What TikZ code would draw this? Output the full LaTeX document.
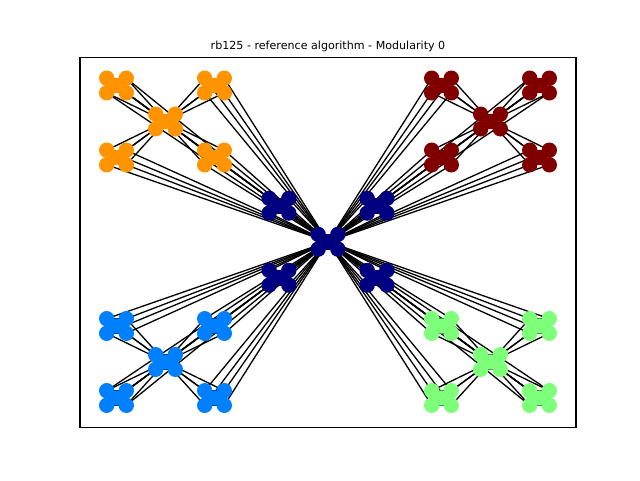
\documentclass[tikz,border=0pt]{standalone}
\usepackage{fontspec}
\setmainfont{DejaVu Sans}
\usetikzlibrary{backgrounds}
\definecolor{cdb}{HTML}{000080}
\definecolor{corange}{HTML}{FF9400}
\definecolor{cred}{HTML}{800000}
\definecolor{cblue}{HTML}{0080FF}
\definecolor{cgreen}{HTML}{7DFF7A}
\tikzset{
  dot/.style={circle,draw=none,minimum size=15.4pt,inner sep=0pt,outer sep=0pt},
  edge/.style={draw=black,line width=1.3pt},
  frame/.style={draw=black,line width=1.1pt},
  title/.style={font=\fontsize{11.1}{13}\selectfont,anchor=base,inner sep=0pt}
}
\begin{document}
\begin{tikzpicture}[x=1pt,y=-1pt]
\useasboundingbox (0,0) rectangle (640,480);
\node[title] (title) at (328,49.5) {rb125 - reference algorithm - Modularity 0};
\node[frame,minimum width=496pt,minimum height=369.6pt,inner sep=0pt] (frame) at (328,242.4) {};
% nodes
\foreach \m/\mx/\my/\col in {0/0/0/cdb,1/-1/-1/corange,2/1/-1/cred,3/-1/1/cblue,4/1/1/cgreen}{
  \foreach \c/\cx/\cy in {0/0/0,1/-1/-1,2/1/-1,3/-1/1,4/1/1}{
    \foreach \k/\kx/\ky in {0/0/0,1/-1/-1,2/1/-1,3/-1/1,4/1/1}{
      \node[dot,fill=\col] (n\m\c\k) at ({328+162.5*\mx+49*\cx+9.8*\kx},{241.75+120.25*\my+36*\cy+7.3*\ky}) {};
    }
  }
}
\begin{pgfonlayer}{background}
% cliques
\foreach \m in {0,...,4}{
  \foreach \c in {0,...,4}{
    \foreach \a/\b in {0/1,0/2,0/3,0/4,1/2,1/3,1/4,2/3,2/4,3/4}{
      \draw[edge] (n\m\c\a.center) -- (n\m\c\b.center);
    }
  }
}
% level 2
\foreach \m in {0,...,4}{
  \foreach \c in {1,...,4}{
    \foreach \k in {1,...,4}{
      \draw[edge] (n\m\c\k.center) -- (n\m00.center);
    }
  }
}
% level 3
\foreach \m in {1,...,4}{
  \foreach \c in {1,...,4}{
    \foreach \k in {1,...,4}{
      \draw[edge] (n\m\c\k.center) -- (n000.center);
    }
  }
}
\end{pgfonlayer}
\end{tikzpicture}
\end{document}
